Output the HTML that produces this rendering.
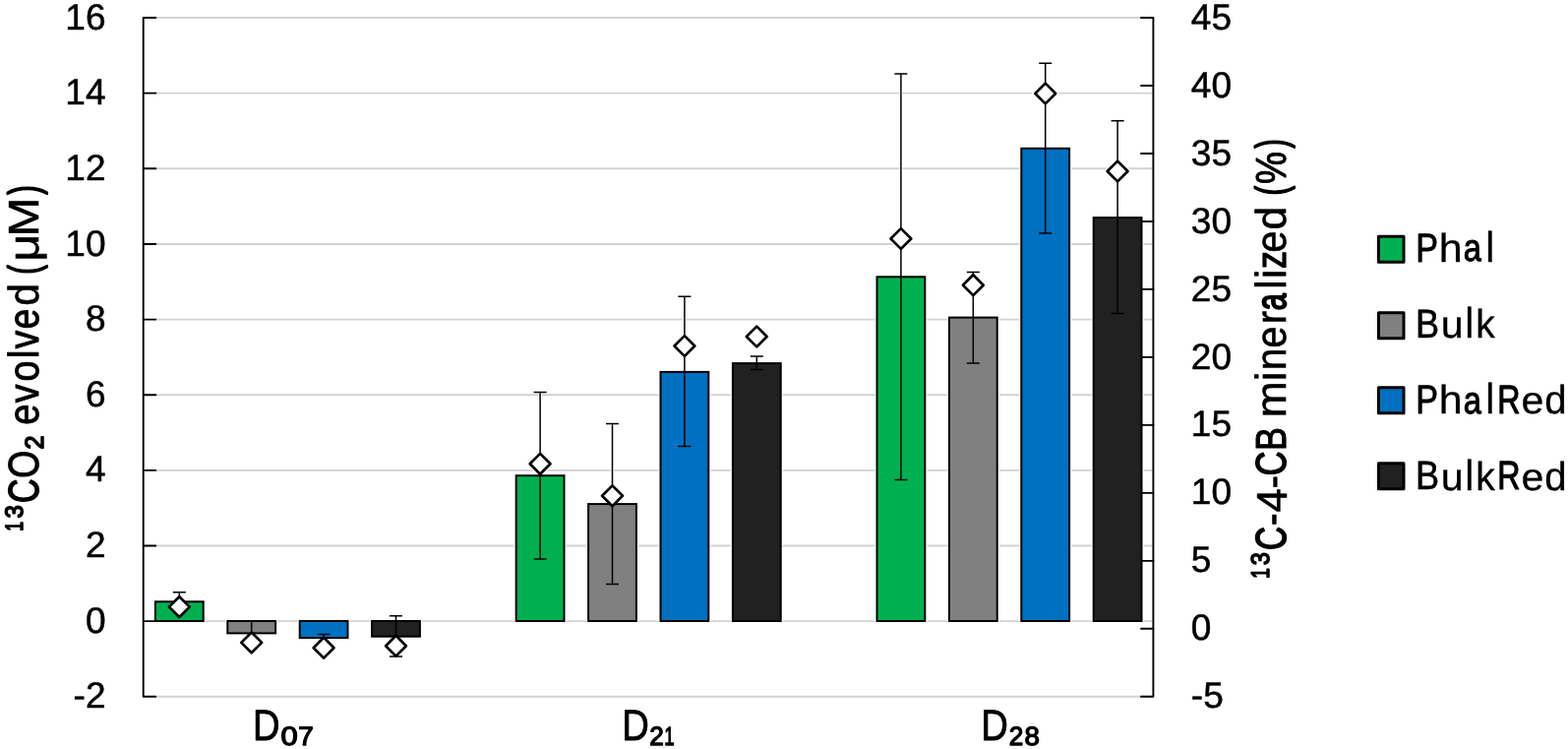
<!DOCTYPE html>
<html lang="en">
<head>
<meta charset="utf-8">
<title>13CO2 evolved and 13C-4-CB mineralized</title>
<style>
html,body{margin:0;padding:0;background:#fff;}
body{width:1594px;height:761px;overflow:hidden;}
svg{display:block;font-family:"Liberation Sans", sans-serif;text-rendering:geometricPrecision;}
</style>
</head>
<body>
<svg width="1594" height="761" viewBox="0 0 1594 761" role="img" aria-label="Bar chart of 13CO2 evolved and 13C-4-CB mineralized at D07, D21 and D28">
<title>13CO2 evolved (μM) and 13C-4-CB mineralized (%)</title>
<desc>Grouped bar chart. Left axis: ¹³CO₂ evolved (μM), 13CO2 evolved (μM), from -2 to 16. Right axis: ¹³C-4-CB mineralized (%), 13C-4-CB mineralized (%), from -5 to 45. Categories: D07, D21, D28. Series: Phal, Bulk, PhalRed, BulkRed. Bars show evolved CO2 with error bars; diamonds show percent mineralized.</desc>
<rect width="1594" height="761" fill="#fff"/>
<g stroke="#d2d2d2" stroke-width="1.9" fill="none">
<line x1="157.7" y1="707.8" x2="1171.4" y2="707.8"/>
<line x1="157.7" y1="631.16" x2="1171.4" y2="631.16"/>
<line x1="157.7" y1="554.51" x2="1171.4" y2="554.51"/>
<line x1="157.7" y1="477.87" x2="1171.4" y2="477.87"/>
<line x1="157.7" y1="401.22" x2="1171.4" y2="401.22"/>
<line x1="157.7" y1="324.58" x2="1171.4" y2="324.58"/>
<line x1="157.7" y1="247.93" x2="1171.4" y2="247.93"/>
<line x1="157.7" y1="171.29" x2="1171.4" y2="171.29"/>
<line x1="157.7" y1="94.64" x2="1171.4" y2="94.64"/>
<line x1="157.7" y1="18" x2="1171.4" y2="18"/>
</g>
<g stroke="#fff" fill="none" stroke-opacity="0.85">
<rect x="157.9" y="611.3" width="48.8" height="19.7" stroke-width="4.6"/>
<path d="M182.3 601.8V619" stroke-width="3.6"/>
<path d="M182.3 606.2L192.7 616.6L182.3 627L171.9 616.6Z" stroke-width="5.2"/>
<rect x="231.3" y="631" width="48.8" height="12.4" stroke-width="4.6"/>
<path d="M255.7 631V655.8" stroke-width="3.6"/>
<path d="M255.7 642.5L266.1 652.9L255.7 663.3L245.3 652.9Z" stroke-width="5.2"/>
<rect x="304.7" y="631" width="48.8" height="17.1" stroke-width="4.6"/>
<path d="M329.1 644.6V656" stroke-width="3.6"/>
<path d="M329.1 647.8L339.5 658.2L329.1 668.6L318.7 658.2Z" stroke-width="5.2"/>
<rect x="378.1" y="631" width="48.8" height="15.7" stroke-width="4.6"/>
<path d="M402.5 625.8V667.1" stroke-width="3.6"/>
<path d="M402.5 645.8L412.9 656.2L402.5 666.6L392.1 656.2Z" stroke-width="5.2"/>
<rect x="524.7" y="483.2" width="48.8" height="147.8" stroke-width="4.6"/>
<path d="M549.1 398.6V568" stroke-width="3.6"/>
<path d="M549.1 460.9L559.5 471.3L549.1 481.7L538.7 471.3Z" stroke-width="5.2"/>
<rect x="598.1" y="512.1" width="48.8" height="118.9" stroke-width="4.6"/>
<path d="M622.5 430.4V593.6" stroke-width="3.6"/>
<path d="M622.5 493.4L632.9 503.8L622.5 514.2L612.1 503.8Z" stroke-width="5.2"/>
<rect x="671.5" y="377.9" width="48.8" height="253.1" stroke-width="4.6"/>
<path d="M695.9 301.2V453.5" stroke-width="3.6"/>
<path d="M695.9 341.1L706.3 351.5L695.9 361.9L685.5 351.5Z" stroke-width="5.2"/>
<rect x="744.9" y="369.1" width="48.8" height="261.9" stroke-width="4.6"/>
<path d="M769.3 362V375.6" stroke-width="3.6"/>
<path d="M769.3 331.6L779.7 342L769.3 352.4L758.9 342Z" stroke-width="5.2"/>
<rect x="891.5" y="281.3" width="48.8" height="349.7" stroke-width="4.6"/>
<path d="M915.9 75V487.4" stroke-width="3.6"/>
<path d="M915.9 232.1L926.3 242.5L915.9 252.9L905.5 242.5Z" stroke-width="5.2"/>
<rect x="964.9" y="322.6" width="48.8" height="308.4" stroke-width="4.6"/>
<path d="M989.3 276.5V369.1" stroke-width="3.6"/>
<path d="M989.3 279.3L999.7 289.7L989.3 300.1L978.9 289.7Z" stroke-width="5.2"/>
<rect x="1038.3" y="150.8" width="48.8" height="480.2" stroke-width="4.6"/>
<path d="M1062.7 64.2V237" stroke-width="3.6"/>
<path d="M1062.7 84.6L1073.1 95L1062.7 105.4L1052.3 95Z" stroke-width="5.2"/>
<rect x="1111.7" y="221.1" width="48.8" height="409.9" stroke-width="4.6"/>
<path d="M1136.1 122.8V318.4" stroke-width="3.6"/>
<path d="M1136.1 163.6L1146.5 174L1136.1 184.4L1125.7 174Z" stroke-width="5.2"/>
</g>
<g stroke="#000" stroke-width="1.9" fill="none" stroke-linecap="round" stroke-linejoin="round">
<path d="M158.3 18H145.7V707.8H158.3"/>
<line x1="145.7" y1="631.16" x2="158.3" y2="631.16"/>
<line x1="145.7" y1="554.51" x2="158.3" y2="554.51"/>
<line x1="145.7" y1="477.87" x2="158.3" y2="477.87"/>
<line x1="145.7" y1="401.22" x2="158.3" y2="401.22"/>
<line x1="145.7" y1="324.58" x2="158.3" y2="324.58"/>
<line x1="145.7" y1="247.93" x2="158.3" y2="247.93"/>
<line x1="145.7" y1="171.29" x2="158.3" y2="171.29"/>
<line x1="145.7" y1="94.64" x2="158.3" y2="94.64"/>
<path d="M1160 18H1172.4V707.8H1160"/>
<line x1="1172.4" y1="638.82" x2="1160" y2="638.82"/>
<line x1="1172.4" y1="569.84" x2="1160" y2="569.84"/>
<line x1="1172.4" y1="500.86" x2="1160" y2="500.86"/>
<line x1="1172.4" y1="431.88" x2="1160" y2="431.88"/>
<line x1="1172.4" y1="362.9" x2="1160" y2="362.9"/>
<line x1="1172.4" y1="293.92" x2="1160" y2="293.92"/>
<line x1="1172.4" y1="224.94" x2="1160" y2="224.94"/>
<line x1="1172.4" y1="155.96" x2="1160" y2="155.96"/>
<line x1="1172.4" y1="86.98" x2="1160" y2="86.98"/>
</g>
<g stroke="#000" stroke-width="2">
<rect x="157.9" y="611.3" width="48.8" height="19.7" fill="#00b050"/>
<rect x="231.3" y="631" width="48.8" height="12.4" fill="#808080"/>
<rect x="304.7" y="631" width="48.8" height="17.1" fill="#0070c0"/>
<rect x="378.1" y="631" width="48.8" height="15.7" fill="#212121"/>
<rect x="524.7" y="483.2" width="48.8" height="147.8" fill="#00b050"/>
<rect x="598.1" y="512.1" width="48.8" height="118.9" fill="#808080"/>
<rect x="671.5" y="377.9" width="48.8" height="253.1" fill="#0070c0"/>
<rect x="744.9" y="369.1" width="48.8" height="261.9" fill="#212121"/>
<rect x="891.5" y="281.3" width="48.8" height="349.7" fill="#00b050"/>
<rect x="964.9" y="322.6" width="48.8" height="308.4" fill="#808080"/>
<rect x="1038.3" y="150.8" width="48.8" height="480.2" fill="#0070c0"/>
<rect x="1111.7" y="221.1" width="48.8" height="409.9" fill="#212121"/>
</g>
<g stroke="#000" stroke-width="1.5" fill="none">
<path d="M175.8 601.8H188.8M182.3 601.8V619M175.8 619H188.8"/>
<path d="M249.2 631H262.2M255.7 631V655.8M249.2 655.8H262.2"/>
<path d="M322.6 644.6H335.6M329.1 644.6V656M322.6 656H335.6"/>
<path d="M396 625.8H409M402.5 625.8V667.1M396 667.1H409"/>
<path d="M542.6 398.6H555.6M549.1 398.6V568M542.6 568H555.6"/>
<path d="M616 430.4H629M622.5 430.4V593.6M616 593.6H629"/>
<path d="M689.4 301.2H702.4M695.9 301.2V453.5M689.4 453.5H702.4"/>
<path d="M762.8 362H775.8M769.3 362V375.6M762.8 375.6H775.8"/>
<path d="M909.4 75H922.4M915.9 75V487.4M909.4 487.4H922.4"/>
<path d="M982.8 276.5H995.8M989.3 276.5V369.1M982.8 369.1H995.8"/>
<path d="M1056.2 64.2H1069.2M1062.7 64.2V237M1056.2 237H1069.2"/>
<path d="M1129.6 122.8H1142.6M1136.1 122.8V318.4M1129.6 318.4H1142.6"/>
</g>
<g stroke="#000" stroke-width="2.7" fill="#fff" stroke-linejoin="round">
<path d="M182.3 606.2L192.7 616.6L182.3 627L171.9 616.6Z"/>
<path d="M255.7 642.5L266.1 652.9L255.7 663.3L245.3 652.9Z"/>
<path d="M329.1 647.8L339.5 658.2L329.1 668.6L318.7 658.2Z"/>
<path d="M402.5 645.8L412.9 656.2L402.5 666.6L392.1 656.2Z"/>
<path d="M549.1 460.9L559.5 471.3L549.1 481.7L538.7 471.3Z"/>
<path d="M622.5 493.4L632.9 503.8L622.5 514.2L612.1 503.8Z"/>
<path d="M695.9 341.1L706.3 351.5L695.9 361.9L685.5 351.5Z"/>
<path d="M769.3 331.6L779.7 342L769.3 352.4L758.9 342Z"/>
<path d="M915.9 232.1L926.3 242.5L915.9 252.9L905.5 242.5Z"/>
<path d="M989.3 279.3L999.7 289.7L989.3 300.1L978.9 289.7Z"/>
<path d="M1062.7 84.6L1073.1 95L1062.7 105.4L1052.3 95Z"/>
<path d="M1136.1 163.6L1146.5 174L1136.1 184.4L1125.7 174Z"/>
</g>
<text transform="matrix(0.9271 0 0 0.925 74.54 719.4)" font-size="40" stroke="#000" stroke-width="0.5399" stroke-linejoin="round">-2</text>
<text transform="matrix(0.9271 0 0 0.925 86.89 642.76)" font-size="40" stroke="#000" stroke-width="0.5399" stroke-linejoin="round">0</text>
<text transform="matrix(0.9271 0 0 0.925 86.89 566.11)" font-size="40" stroke="#000" stroke-width="0.5399" stroke-linejoin="round">2</text>
<text transform="matrix(0.9271 0 0 0.925 86.89 489.47)" font-size="40" stroke="#000" stroke-width="0.5399" stroke-linejoin="round">4</text>
<text transform="matrix(0.9271 0 0 0.925 86.89 412.82)" font-size="40" stroke="#000" stroke-width="0.5399" stroke-linejoin="round">6</text>
<text transform="matrix(0.9271 0 0 0.925 86.89 336.18)" font-size="40" stroke="#000" stroke-width="0.5399" stroke-linejoin="round">8</text>
<text transform="matrix(0.9271 0 0 0.925 66.27 259.53)" font-size="40" stroke="#000" stroke-width="0.5399" stroke-linejoin="round">10</text>
<text transform="matrix(0.9271 0 0 0.925 66.27 182.89)" font-size="40" stroke="#000" stroke-width="0.5399" stroke-linejoin="round">12</text>
<text transform="matrix(0.9271 0 0 0.925 66.27 106.24)" font-size="40" stroke="#000" stroke-width="0.5399" stroke-linejoin="round">14</text>
<text transform="matrix(0.9271 0 0 0.925 66.27 29.6)" font-size="40" stroke="#000" stroke-width="0.5399" stroke-linejoin="round">16</text>
<text transform="matrix(0.9271 0 0 0.925 1210.82 719.4)" font-size="40" stroke="#000" stroke-width="0.5399" stroke-linejoin="round">-5</text>
<text transform="matrix(0.9271 0 0 0.925 1210.82 650.42)" font-size="40" stroke="#000" stroke-width="0.5399" stroke-linejoin="round">0</text>
<text transform="matrix(0.9271 0 0 0.925 1210.82 581.44)" font-size="40" stroke="#000" stroke-width="0.5399" stroke-linejoin="round">5</text>
<text transform="matrix(0.9271 0 0 0.925 1210.82 512.46)" font-size="40" stroke="#000" stroke-width="0.5399" stroke-linejoin="round">10</text>
<text transform="matrix(0.9271 0 0 0.925 1210.82 443.48)" font-size="40" stroke="#000" stroke-width="0.5399" stroke-linejoin="round">15</text>
<text transform="matrix(0.9271 0 0 0.925 1210.82 374.5)" font-size="40" stroke="#000" stroke-width="0.5399" stroke-linejoin="round">20</text>
<text transform="matrix(0.9271 0 0 0.925 1210.82 305.52)" font-size="40" stroke="#000" stroke-width="0.5399" stroke-linejoin="round">25</text>
<text transform="matrix(0.9271 0 0 0.925 1210.82 236.54)" font-size="40" stroke="#000" stroke-width="0.5399" stroke-linejoin="round">30</text>
<text transform="matrix(0.9271 0 0 0.925 1210.82 167.56)" font-size="40" stroke="#000" stroke-width="0.5399" stroke-linejoin="round">35</text>
<text transform="matrix(0.9271 0 0 0.925 1210.82 98.58)" font-size="40" stroke="#000" stroke-width="0.5399" stroke-linejoin="round">40</text>
<text transform="matrix(0.9271 0 0 0.925 1210.82 29.6)" font-size="40" stroke="#000" stroke-width="0.5399" stroke-linejoin="round">45</text>
<rect x="1401.4" y="240.35" width="25.6" height="26" fill="#00b050" stroke="#000" stroke-width="3" stroke-linejoin="round"/>
<text transform="translate(1441.7 265.75)" font-size="41" stroke="#000" stroke-width="0.5" stroke-linejoin="round"><tspan x="-2.34" y="-0.21" textLength="22.74" lengthAdjust="spacingAndGlyphs" stroke-width="0.92">P</tspan><tspan x="21.05" y="0.1" textLength="23.94" lengthAdjust="spacingAndGlyphs" font-size="40.6" stroke-width="0.3">h</tspan><tspan x="45.99" y="-0.29" textLength="18.1" lengthAdjust="spacingAndGlyphs" font-size="38.9" stroke-width="1.08">a</tspan><tspan x="68.83" y="0" textLength="8.53" lengthAdjust="spacingAndGlyphs" font-size="43.2">l</tspan></text>
<rect x="1401.4" y="317.75" width="25.6" height="26" fill="#808080" stroke="#000" stroke-width="3" stroke-linejoin="round"/>
<text transform="translate(1441.7 342.95)" font-size="41" stroke="#000" stroke-width="0.5" stroke-linejoin="round"><tspan x="-2.6" y="-0.08" textLength="24.09" lengthAdjust="spacingAndGlyphs" stroke-width="0.66">B</tspan><tspan x="23.08" y="0.1" textLength="22.88" lengthAdjust="spacingAndGlyphs" font-size="38.9" stroke-width="0.3">u</tspan><tspan x="47.73" y="0" textLength="8.53" lengthAdjust="spacingAndGlyphs" font-size="43.2">l</tspan><tspan x="58.61" y="0.09" textLength="19.53" lengthAdjust="spacingAndGlyphs" font-size="40.6" stroke-width="0.32">k</tspan></text>
<rect x="1401.4" y="393.65" width="25.6" height="26" fill="#0070c0" stroke="#000" stroke-width="3" stroke-linejoin="round"/>
<text transform="translate(1441.7 420.25)" font-size="41" stroke="#000" stroke-width="0.5" stroke-linejoin="round"><tspan x="-2.34" y="-0.21" textLength="22.74" lengthAdjust="spacingAndGlyphs" stroke-width="0.92">P</tspan><tspan x="21.05" y="0.1" textLength="23.94" lengthAdjust="spacingAndGlyphs" font-size="40.6" stroke-width="0.3">h</tspan><tspan x="45.99" y="-0.29" textLength="18.1" lengthAdjust="spacingAndGlyphs" font-size="38.9" stroke-width="1.08">a</tspan><tspan x="68.83" y="0" textLength="8.53" lengthAdjust="spacingAndGlyphs" font-size="43.2">l</tspan><tspan x="80.5" y="-0.35" textLength="23.21" lengthAdjust="spacingAndGlyphs" stroke-width="1.2">R</tspan><tspan x="104.8" y="0.1" textLength="22.94" lengthAdjust="spacingAndGlyphs" font-size="38.9" stroke-width="0.3">e</tspan><tspan x="128.54" y="0.1" textLength="22.37" lengthAdjust="spacingAndGlyphs" font-size="40.6" stroke-width="0.3">d</tspan></text>
<rect x="1401.4" y="470.85" width="25.6" height="26" fill="#212121" stroke="#000" stroke-width="3" stroke-linejoin="round"/>
<text transform="translate(1441.7 497.55)" font-size="41" stroke="#000" stroke-width="0.5" stroke-linejoin="round"><tspan x="-2.6" y="-0.08" textLength="24.09" lengthAdjust="spacingAndGlyphs" stroke-width="0.66">B</tspan><tspan x="23.08" y="0.1" textLength="22.88" lengthAdjust="spacingAndGlyphs" font-size="38.9" stroke-width="0.3">u</tspan><tspan x="47.73" y="0" textLength="8.53" lengthAdjust="spacingAndGlyphs" font-size="43.2">l</tspan><tspan x="58.61" y="0.09" textLength="19.53" lengthAdjust="spacingAndGlyphs" font-size="40.6" stroke-width="0.32">k</tspan><tspan x="80.5" y="-0.35" textLength="23.21" lengthAdjust="spacingAndGlyphs" stroke-width="1.2">R</tspan><tspan x="104.8" y="0.1" textLength="22.94" lengthAdjust="spacingAndGlyphs" font-size="38.9" stroke-width="0.3">e</tspan><tspan x="128.54" y="0.1" textLength="22.37" lengthAdjust="spacingAndGlyphs" font-size="40.6" stroke-width="0.3">d</tspan></text>
<text transform="translate(259.7 752.05)" font-size="44.2" stroke="#000" stroke-width="0.9" stroke-linejoin="round"><tspan x="-2.67" y="0" textLength="27.58" lengthAdjust="spacingAndGlyphs">D</tspan><tspan x="25.82" y="4.7" textLength="17.2" lengthAdjust="spacingAndGlyphs" font-size="26.6" stroke-width="1.3">0</tspan><tspan x="43.59" y="4.7" textLength="15.45" lengthAdjust="spacingAndGlyphs" font-size="26.6" stroke-width="1.3">7</tspan></text>
<text transform="translate(634.9 752.05)" font-size="44.2" stroke="#000" stroke-width="0.9" stroke-linejoin="round"><tspan x="-2.67" y="0" textLength="27.58" lengthAdjust="spacingAndGlyphs">D</tspan><tspan x="25.43" y="4.7" textLength="14.57" lengthAdjust="spacingAndGlyphs" font-size="26.6" stroke-width="1.3">2</tspan><tspan x="40.26" y="4.7" textLength="10.34" lengthAdjust="spacingAndGlyphs" font-size="26.6" stroke-width="1.3">1</tspan></text>
<text transform="translate(999.9 752.05)" font-size="44.2" stroke="#000" stroke-width="0.9" stroke-linejoin="round"><tspan x="-2.67" y="0" textLength="27.58" lengthAdjust="spacingAndGlyphs">D</tspan><tspan x="25.83" y="4.7" textLength="14.57" lengthAdjust="spacingAndGlyphs" font-size="26.6" stroke-width="1.3">2</tspan><tspan x="41.73" y="4.7" textLength="15.33" lengthAdjust="spacingAndGlyphs" font-size="26.6" stroke-width="1.3">8</tspan></text>
<text transform="matrix(0 -1 1 0 39.05 538.9)" font-size="43.5" stroke="#000" stroke-width="0.9" stroke-linejoin="round"><tspan x="-0.77" y="-16.55" textLength="9.81" lengthAdjust="spacingAndGlyphs" font-size="25.3" stroke-width="1.6">1</tspan><tspan x="12.3" y="-16.55" textLength="13.35" lengthAdjust="spacingAndGlyphs" font-size="25.3" stroke-width="1.6">3</tspan><tspan x="27.8" y="-0.01" textLength="24.43" lengthAdjust="spacingAndGlyphs" stroke-width="1.53">C</tspan><tspan x="53.07" y="0.16" textLength="28.07" lengthAdjust="spacingAndGlyphs" stroke-width="1.18">O</tspan><tspan x="82.5" y="4.65" textLength="14.13" lengthAdjust="spacingAndGlyphs" font-size="26.4" stroke-width="1.6">2</tspan> <tspan x="107.09" y="-0.01" textLength="21.17" lengthAdjust="spacingAndGlyphs" stroke-width="0.91">e</tspan><tspan x="129.63" y="-0.03" textLength="18.84" lengthAdjust="spacingAndGlyphs" stroke-width="0.96">v</tspan><tspan x="151.39" y="-0.02" textLength="21.06" lengthAdjust="spacingAndGlyphs" stroke-width="0.94">o</tspan><tspan x="174.73" y="0" textLength="8.63" lengthAdjust="spacingAndGlyphs">l</tspan><tspan x="184.78" y="-0.1" textLength="18.34" lengthAdjust="spacingAndGlyphs" stroke-width="1.1">v</tspan><tspan x="204.71" y="-0.1" textLength="20.43" lengthAdjust="spacingAndGlyphs" stroke-width="1.09">e</tspan><tspan x="228.15" y="0.15" textLength="22.66" lengthAdjust="spacingAndGlyphs" stroke-width="0.6">d</tspan> <tspan x="260.39" y="-0.55" textLength="9.1" lengthAdjust="spacingAndGlyphs" stroke-width="2">(</tspan><tspan x="273.27" y="0.15" textLength="28.06" lengthAdjust="spacingAndGlyphs" stroke-width="0.6">μ</tspan><tspan x="298.41" y="0.15" textLength="39.72" lengthAdjust="spacingAndGlyphs" stroke-width="0.6">M</tspan><tspan x="341.26" y="-0.55" textLength="9.25" lengthAdjust="spacingAndGlyphs" stroke-width="2">)</tspan></text>
<text transform="matrix(0 -1 1 0 1307.25 587)" font-size="43.5" stroke="#000" stroke-width="0.9" stroke-linejoin="round"><tspan x="-0.83" y="-17.65" textLength="10.52" lengthAdjust="spacingAndGlyphs" font-size="25.9" stroke-width="1.6">1</tspan><tspan x="12.79" y="-17.65" textLength="13.07" lengthAdjust="spacingAndGlyphs" font-size="25.9" stroke-width="1.6">3</tspan><tspan x="27.97" y="-0.18" textLength="23.89" lengthAdjust="spacingAndGlyphs" stroke-width="1.65">C</tspan><tspan x="53.1" y="0.18" textLength="12.63" lengthAdjust="spacingAndGlyphs" stroke-width="0.93">-</tspan><tspan x="66.51" y="0.35" textLength="24.25" lengthAdjust="spacingAndGlyphs" stroke-width="0.6">4</tspan><tspan x="90.56" y="0.34" textLength="13.5" lengthAdjust="spacingAndGlyphs" stroke-width="0.61">-</tspan><tspan x="103.87" y="-0.08" textLength="24.7" lengthAdjust="spacingAndGlyphs" stroke-width="1.47">C</tspan><tspan x="129.03" y="0.05" textLength="23.94" lengthAdjust="spacingAndGlyphs" stroke-width="1.21">B</tspan> <tspan x="162.82" y="0.15" textLength="37" lengthAdjust="spacingAndGlyphs" stroke-width="0.6">m</tspan><tspan x="200.23" y="0" textLength="8.63" lengthAdjust="spacingAndGlyphs">i</tspan><tspan x="210.83" y="0.15" textLength="22.69" lengthAdjust="spacingAndGlyphs" stroke-width="0.6">n</tspan><tspan x="233.29" y="0.13" textLength="22.37" lengthAdjust="spacingAndGlyphs" stroke-width="0.65">e</tspan><tspan x="257.65" y="0.14" textLength="13.49" lengthAdjust="spacingAndGlyphs" stroke-width="0.62">r</tspan><tspan x="271.83" y="-0.55" textLength="17.01" lengthAdjust="spacingAndGlyphs" stroke-width="2">a</tspan><tspan x="293.53" y="0" textLength="8.63" lengthAdjust="spacingAndGlyphs">l</tspan><tspan x="304.23" y="0" textLength="8.63" lengthAdjust="spacingAndGlyphs">i</tspan><tspan x="313.97" y="-0.16" textLength="17.92" lengthAdjust="spacingAndGlyphs" stroke-width="1.22">z</tspan><tspan x="330.29" y="0.13" textLength="22.37" lengthAdjust="spacingAndGlyphs" stroke-width="0.65">e</tspan><tspan x="353.39" y="0.15" textLength="23.62" lengthAdjust="spacingAndGlyphs" stroke-width="0.6">d</tspan> <tspan x="388.78" y="-0.55" textLength="9.21" lengthAdjust="spacingAndGlyphs" stroke-width="2">(</tspan><tspan x="399.95" y="-0.07" textLength="32.98" lengthAdjust="spacingAndGlyphs" stroke-width="1.04">%</tspan><tspan x="436.55" y="-0.55" textLength="9.03" lengthAdjust="spacingAndGlyphs" stroke-width="2">)</tspan></text>
</svg>
</body>
</html>
